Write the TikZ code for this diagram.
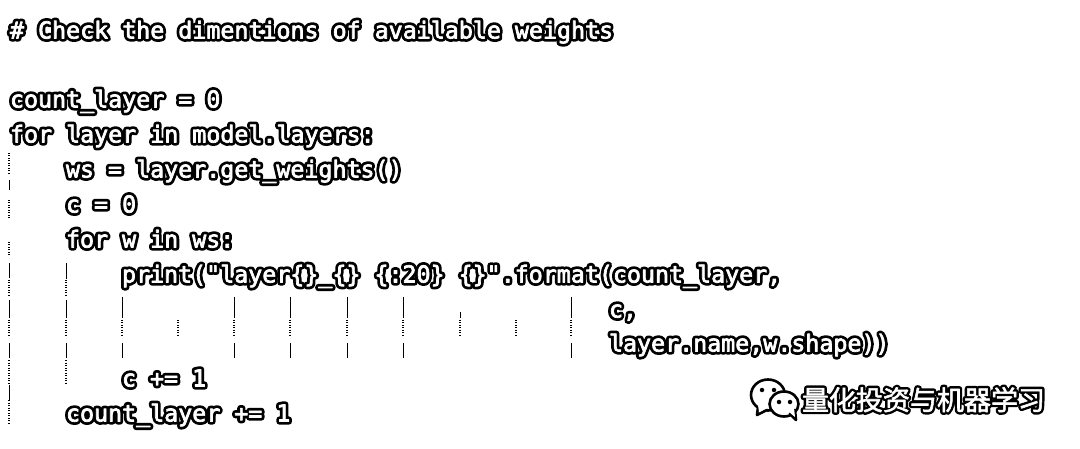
\documentclass[tikz,border=0pt]{standalone}
\usepackage{fontspec}
\newfontfamily\codeface[FakeBold=3]{DejaVu Sans Mono}
\newfontfamily\codehalo[FakeBold=27]{DejaVu Sans Mono}
\newfontfamily\cjkface[FakeBold=2]{Noto Sans CJK SC}
\newfontfamily\cjkhalo[FakeBold=20]{Noto Sans CJK SC}
\newcommand\halotext[1]{\rlap{\codehalo\color{black}#1}{\codeface\color{white}#1}}
\newcommand\halocjk[1]{\rlap{\cjkhalo\color{black}#1}{\cjkface\color{white}#1}}
\tikzset{
  codeline/.style={anchor=base west,inner sep=0pt,outer sep=0pt,font=\fontsize{23.3}{28}\selectfont},
  markline/.style={anchor=base west,inner sep=0pt,outer sep=0pt,font=\fontsize{27}{30}\selectfont},
  guidesolid/.style={black,line width=0.7pt},
  guidedots/.style={black,line width=1.6pt,dash pattern=on 1pt off 1.5pt},
  bubble/.style={draw=black,line width=2.6pt,fill=white},
  eye/.style={fill=black,circle,inner sep=0pt,minimum size=4.5pt}
}
\begin{document}
\begin{tikzpicture}[x=1pt,y=-1pt,line join=round,line cap=round]
\useasboundingbox (0,0) rectangle (1080,449);
\fill[white] (0,0) rectangle (1080,449);
\begin{scope}[line cap=butt]
% indent guides: outer
\foreach \a/\b in {180/190,263/278,300/318,343/358,385/400}{\draw[guidesolid] (9,\a) -- (9,\b);}
\foreach \a/\b in {153/175,200/218,242/256,280/296,320/336,360/383,400/423}{\draw[guidedots] (9,\a) -- (9,\b);}
% second guide
\foreach \a/\b in {263/279,300/318,343/358}{\draw[guidesolid] (66,\a) -- (66,\b);}
\foreach \a/\b in {280/296,320/336,360/383}{\draw[guidedots] (66,\a) -- (66,\b);}
% inner guides
\foreach \x in {122,234,290,347,403,571}{
  \draw[guidesolid] (\x,297) -- (\x,318);
  \draw[guidesolid] (\x,343) -- (\x,358);
}
\draw[guidesolid] (460,312) -- (460,318);
\foreach \x in {122,178,234,290,347,403,460,516,571}{\draw[guidedots] (\x,320) -- (\x,336);}
\end{scope}
% text lines
\node[codeline] (t1) at (10,38.5) {\halotext{\# Check the dimentions of available weights}};
\node[codeline] (t2) at (10,107.5) {\halotext{count\_layer = 0}};
\node[codeline] (t3) at (10,142.5) {\halotext{for layer in model.layers:}};
\node[codeline] (t4) at (66,177.5) {\halotext{ws = layer.get\_weights()}};
\node[codeline] (t5) at (66,212.5) {\halotext{c = 0}};
\node[codeline] (t6) at (66,247.5) {\halotext{for w in ws:}};
\node[codeline] (t7) at (122,282.5) {\halotext{print("layer\{\}\_\{\} \{:20\} \{\}".format(count\_layer,}};
\node[codeline] (t8) at (609,317.5) {\halotext{c,}};
\node[codeline] (t9) at (609,351.5) {\halotext{layer.name,w.shape))}};
\node[codeline] (t10) at (122,386.5) {\halotext{c += 1}};
\node[codeline] (t11) at (66,421.5) {\halotext{count\_layer += 1}};
% WeChat mark
\draw[bubble] (768,395) ellipse (17 and 15.5);
\draw[bubble] (758,407) -- (757,415) -- (767,410) -- cycle;
\fill[white] (758,405) -- (759,412) -- (768,408) -- cycle;
\node[eye] (e1) at (762,390) {};
\node[eye] (e2) at (774,390) {};
\draw[bubble] (784,404) ellipse (14.5 and 12.5);
\draw[bubble] (790,414) -- (796,420) -- (795,410) -- cycle;
\fill[white] (789,412) -- (795,417) -- (794,408) -- cycle;
\node[eye] (e3) at (779,402) {};
\node[eye] (e4) at (790,402) {};
\node[markline] (brand) at (802,410) {\halocjk{量化投资与机器学习}};
\end{tikzpicture}
\end{document}
